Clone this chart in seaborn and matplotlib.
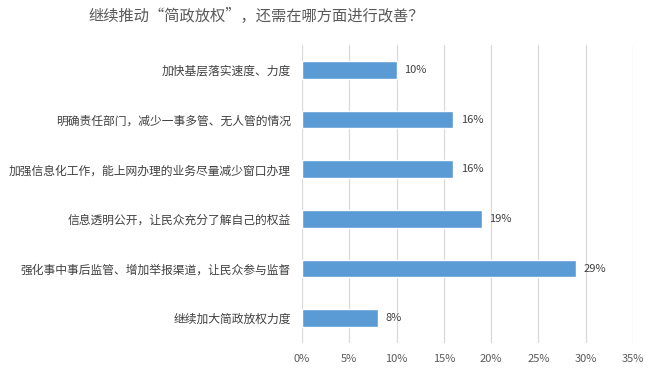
import matplotlib
matplotlib.use("Agg")
import matplotlib.pyplot as plt
import seaborn as sns
import pandas as pd

categories = [
    "加快基层落实速度、力度",
    "明确责任部门，减少一事多管、无人管的情况",
    "加强信息化工作，能上网办理的业务尽量减少窗口办理",
    "信息透明公开，让民众充分了解自己的权益",
    "强化事中事后监管、增加举报渠道，让民众参与监督",
    "继续加大简政放权力度",
]
values = [10, 16, 16, 19, 29, 8]
xticks = [0, 5, 10, 15, 20, 25, 30, 35]
title = "继续推动“简政放权”，还需在哪方面进行改善？"

sns.set_theme(style="white")
plt.rcParams['font.family'] = ['Noto Sans CJK SC', 'DejaVu Sans']

df = pd.DataFrame({"cat": categories, "val": values})

fig = plt.figure(figsize=(6.5, 3.75), dpi=100)
ax = fig.add_axes([302/650, 1-343/375, (633-302)/650, (343-45)/375])
sns.barplot(data=df, y="cat", x="val", orient="h", color="#5B9BD5",
            saturation=1, width=0.36, ax=ax, zorder=3)
ax.set_xlim(0, 35)
ax.set_xticks(xticks)
ax.set_xticklabels([f"{t}%" for t in xticks], fontsize=8, color="#595959")
ax.set_xlabel("")
ax.set_ylabel("")
ax.tick_params(axis="y", labelsize=8.5, labelcolor="#404040", length=0, pad=8)
ax.tick_params(axis="x", length=0, pad=8)
ax.grid(axis="x", color="#D9D9D9", linewidth=0.9, zorder=0)
for s in ax.spines.values():
    s.set_visible(False)
for i, v in enumerate(values):
    ax.text(v + 0.8, i, f"{v}%", va="center", ha="left", fontsize=8, color="#404040")
fig.text(256/650, 1-16/375, title, ha="center", va="center", fontsize=11, color="#595959")
fig.savefig("out.png", dpi=100)
